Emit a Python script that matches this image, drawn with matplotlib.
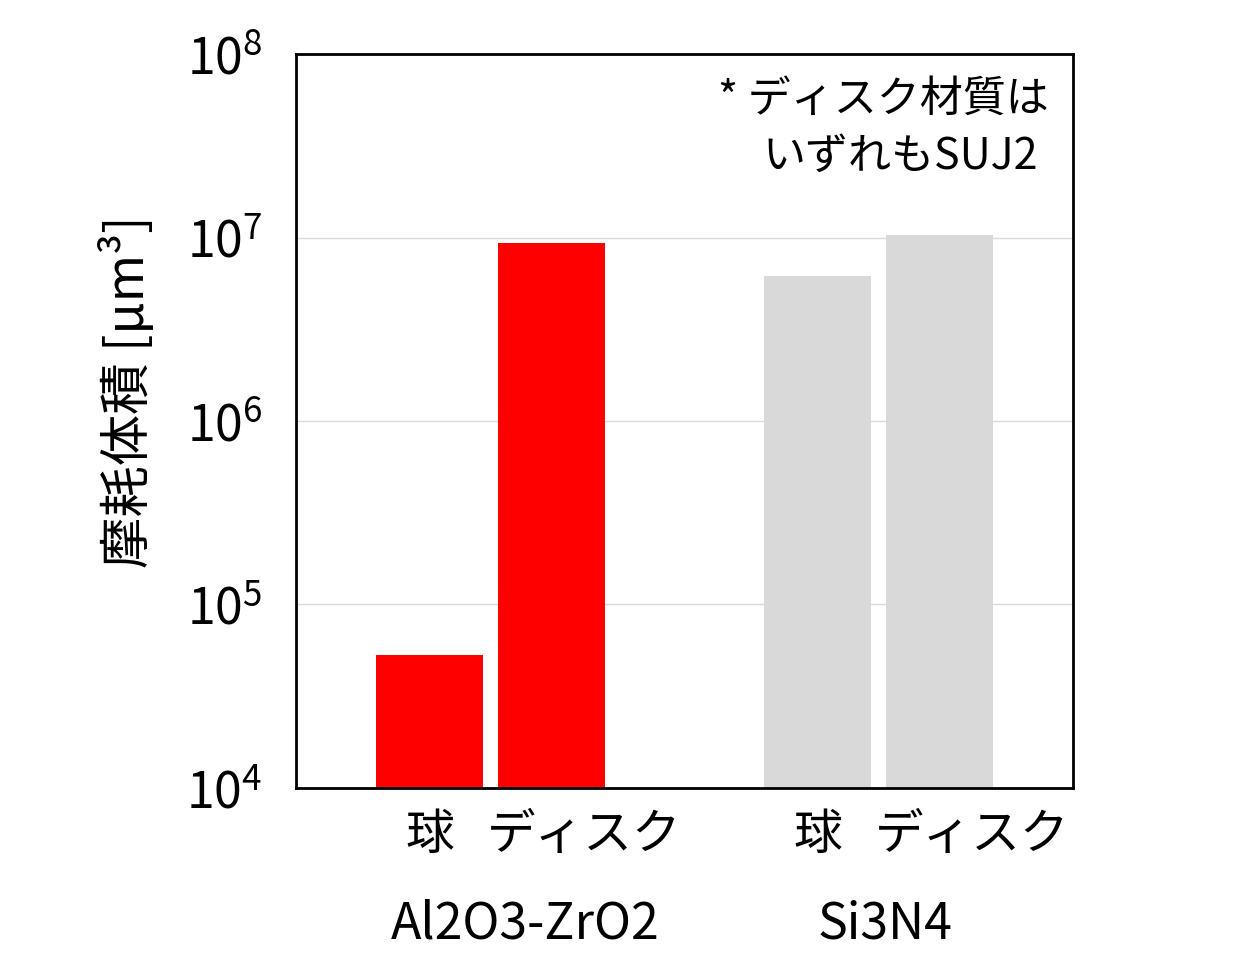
import numpy as np
import matplotlib
matplotlib.use('Agg')
import matplotlib.pyplot as plt
import matplotlib.transforms as mtransforms

plt.rcParams['font.family'] = ['Noto Sans CJK JP', 'DejaVu Sans']
plt.rcParams['mathtext.fontset'] = 'custom'
plt.rcParams['mathtext.rm'] = 'Noto Sans CJK JP'
plt.rcParams['mathtext.it'] = 'Noto Sans CJK JP'

# data
materials = ['Al2O3-ZrO2', 'Si3N4']
parts = ['球', 'ディスク']
ball_vol = [5.3e4, 6.2e6]
disk_vol = [9.3e6, 1.03e7]
colors = ['#ff0000', '#d9d9d9']
note_lines = ['* ディスク材質は', 'いずれもSUJ2']
ylabel = '摩耗体積 [μm³]'

fig = plt.figure(figsize=(12.34, 9.75), dpi=100)
ax = fig.add_axes([0.2399, 0.1918, 0.6297, 0.7528])

x = np.arange(len(materials))
w = 0.275
off = 0.157
ax.bar(x - off, ball_vol, w, color=colors, zorder=2)
ax.bar(x + off, disk_vol, w, color=colors, zorder=2)

ax.set_yscale('log')
ax.set_ylim(1e4, 1e8)
ax.set_xlim(-0.5, 1.5)
ax.set_yticks([1e4, 1e5, 1e6, 1e7, 1e8])
ax.minorticks_off()
ax.yaxis.grid(True, color='#d9d9d9', linewidth=1, zorder=0)
ax.set_axisbelow(True)
ax.tick_params(axis='y', length=0, pad=24, labelsize=36)
ax.set_xticks([])
for s in ax.spines.values():
    s.set_linewidth(2)
    s.set_color('black')

ax.set_ylabel(ylabel, fontsize=37)
ax.yaxis.set_label_coords(-0.18, 0.54)

# category labels under bars
trans = mtransforms.blended_transform_factory(ax.transData, ax.transAxes)
for i in range(len(materials)):
    ax.text(x[i] - off, -0.064, parts[0], transform=trans, ha='center', va='center', fontsize=35)
    ax.text(x[i] - 0.01, -0.064, parts[1], transform=trans, ha='left', va='center', fontsize=35)
group_x = [0.09, 1.016]
for i, m in enumerate(materials):
    ax.text(group_x[i], -0.186, m, transform=trans, ha='center', va='center', fontsize=36)

ax.text(0.543, 0.937, note_lines[0], transform=ax.transAxes, ha='left', va='center', fontsize=31)
ax.text(0.600, 0.860, note_lines[1], transform=ax.transAxes, ha='left', va='center', fontsize=31)

plt.savefig('out.png', dpi=100)
